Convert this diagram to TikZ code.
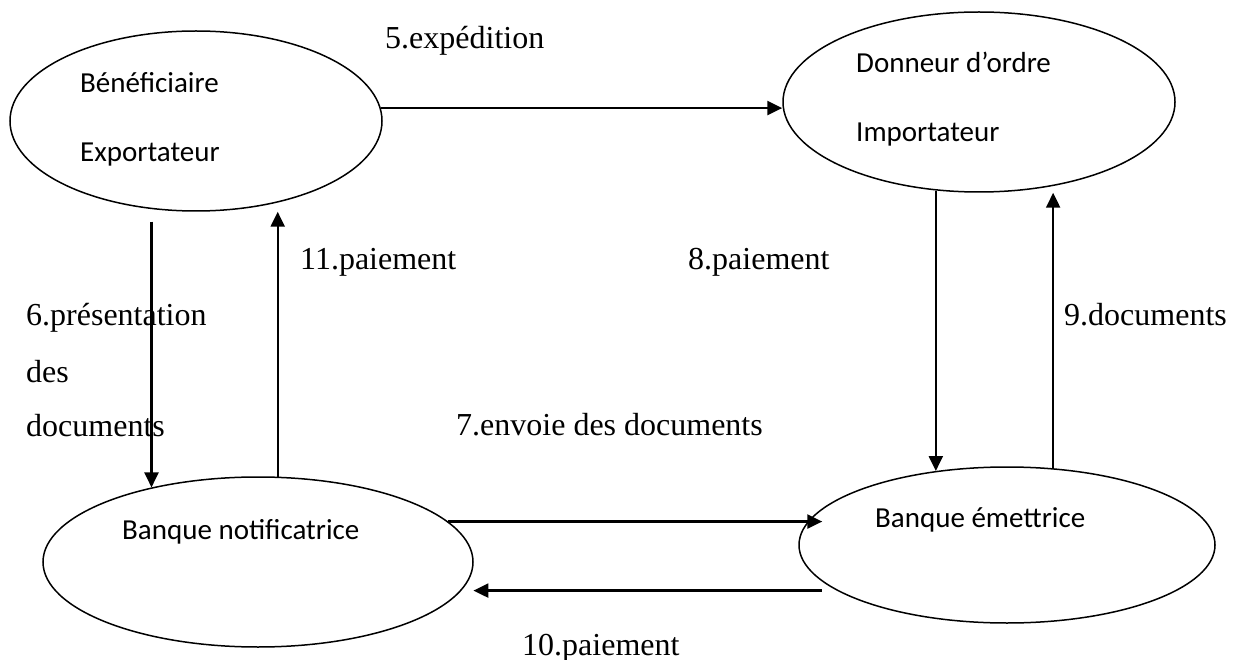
\documentclass[tikz,border=0pt]{standalone}
\usepackage{fontspec}
\setmainfont{Liberation Serif}
\newfontfamily\carlito{Carlito}
\usetikzlibrary{shapes.geometric,arrows.meta,calc}
\begin{document}
\begin{tikzpicture}[x=1pt,y=-1pt,
    acteur/.style={ellipse, draw, line width=1.5pt, inner sep=0pt},
    nom/.style={anchor=base west, inner sep=0pt, font=\carlito\fontsize{29}{34}\selectfont},
    etiq/.style={anchor=base west, inner sep=0pt, font=\fontsize{32}{38}\selectfont},
    fleche/.style={line width=2.3pt, -{Triangle[length=15pt,width=14pt]}}]
    \useasboundingbox (0,0) rectangle (1234,660);
    % les quatre acteurs
    \node[acteur, minimum width=372pt, minimum height=180pt] (benef) at (196,121) {};
    \node[acteur, minimum width=392pt, minimum height=180pt] (imp) at (979,102) {};
    \node[acteur, minimum width=430pt, minimum height=170pt] (notif) at (258,562) {};
    \node[acteur, minimum width=416pt, minimum height=156pt] (emet) at (1007,545) {};
    \node[nom] (benefa) at (80,93) {Bénéficiaire};
    \node[nom] (benefb) at (80,162) {Exportateur};
    \node[nom] (impa) at (856,73) {Donneur d’ordre};
    \node[nom] (impb) at (856,142) {Importateur};
    \node[nom] (notifa) at (122,539) {Banque notificatrice};
    \node[nom] (emeta) at (875,527) {Banque émettrice};
    % les flux
    \draw[fleche] (benef.4) -- (benef.4 -| imp.west);
    \draw[fleche] ($(notif.145 |- benef.south)+(0,10)$) -- (notif.145);
    \draw[fleche] (notif.77) -- (notif.77 |- benef.south);
    \draw[fleche] (imp.244) -- (imp.244 |- emet.134);
    \draw[fleche] (emet.59) -- (emet.59 |- imp.south);
    \draw[fleche] (notif.12) -- ($(notif.12 -| emet.west)+(24,0)$);
    \draw[fleche] ($(emet.195)+(-15,0)$) -- ($(emet.195 -| notif.352)+(12,0)$);
    % les etiquettes
    \node[etiq] (l5) at (385,49) {5.expédition};
    \node[etiq] (l6a) at (26,325) {6.présentation};
    \node[etiq] (l6b) at (26,382) {des};
    \node[etiq] (l6c) at (26,436) {documents};
    \node[etiq] (l11) at (300,270) {11.paiement};
    \node[etiq] (l8) at (688,270) {8.paiement};
    \node[etiq] (l9) at (1064,325) {9.documents};
    \node[etiq] (l7) at (456,435) {7.envoie des documents};
    \node[etiq] (l10) at (522,655) {10.paiement};
\end{tikzpicture}
\end{document}
